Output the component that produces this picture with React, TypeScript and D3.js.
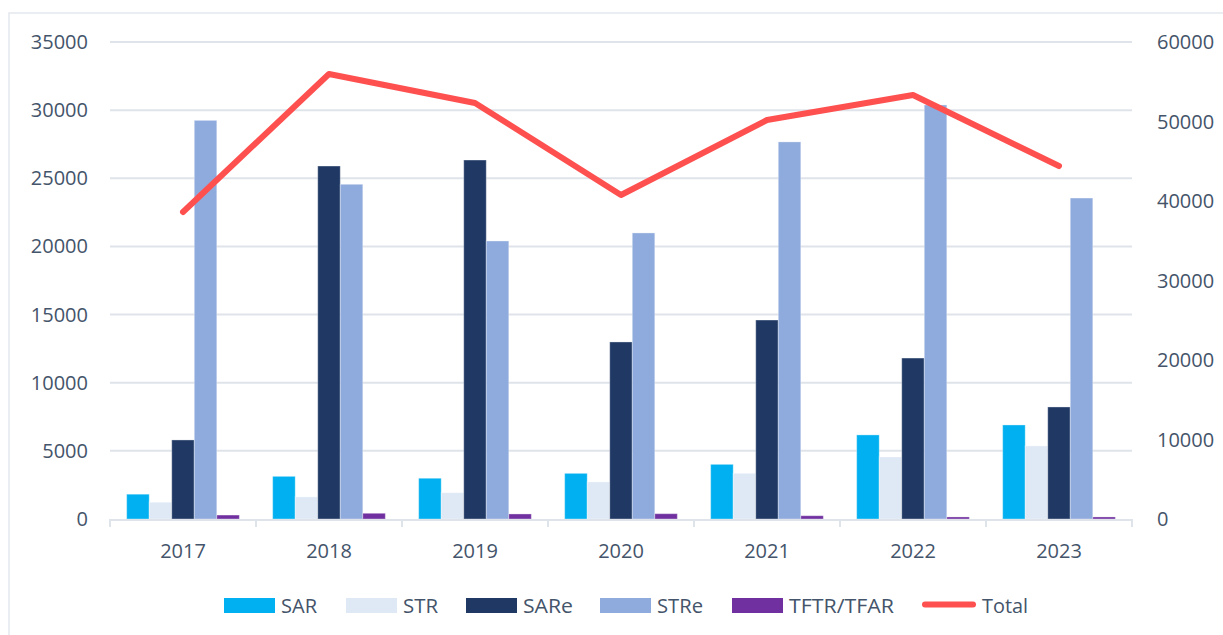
import { useEffect, useRef } from "react";
import * as d3 from "d3";

const years = ["2017", "2018", "2019", "2020", "2021", "2022", "2023"];
const sar = [1820, 3130, 2990, 3350, 4010, 6170, 6900];
const str = [1230, 1620, 1930, 2720, 3350, 4550, 5360];
const sare = [5800, 25900, 26340, 12990, 14600, 11810, 8220];
const stre = [29250, 24560, 20400, 20990, 27670, 30380, 23550];
const tftr = [290, 420, 370, 390, 240, 150, 150];
const total = [38620, 55980, 52330, 40760, 50190, 53330, 44400];

const leftTicks = [0, 5000, 10000, 15000, 20000, 25000, 30000, 35000];
const rightTicks = [0, 10000, 20000, 30000, 40000, 50000, 60000];

const seriesNames = ["SAR", "STR", "SARe", "STRe", "TFTR/TFAR"];
const seriesColors = ["#00B0F0", "#DEE9F5", "#1F3864", "#8FAADC", "#7030A0"];
const legendWidths = [36, 35, 50, 46, 105];

const W = 1223;
const H = 635;
const textColor = "#44546A";
const gridColor = "#DFE3EA";

function App() {
  const svgRef = useRef<SVGSVGElement>(null);

  useEffect(() => {
    const svg = d3.select(svgRef.current);
    svg.selectAll("*").remove();

    const left = 110;
    const right = 1132;
    const top = 42;
    const bottom = 519;

    // scales
    const x = d3.scaleBand().domain(years).range([left, right]);
    const inner = d3
      .scaleBand()
      .domain(seriesNames)
      .range([0, x.bandwidth()])
      .paddingOuter(0.74)
      .paddingInner(0);
    const yL = d3.scaleLinear().domain([0, 35000]).range([bottom, top]);
    const yR = d3.scaleLinear().domain([0, 60000]).range([bottom, top]);

    // frame
    svg
      .append("rect")
      .attr("x", 9)
      .attr("y", 13)
      .attr("width", W)
      .attr("height", H)
      .attr("fill", "white")
      .attr("stroke", "#E3E7ED")
      .attr("stroke-width", 1.5);

    // gridlines
    svg
      .append("g")
      .selectAll("line")
      .data(leftTicks.slice(1))
      .join("line")
      .attr("x1", left)
      .attr("x2", right)
      .attr("y1", (d) => yL(d))
      .attr("y2", (d) => yL(d))
      .attr("stroke", gridColor)
      .attr("stroke-width", 2);

    // left labels
    svg
      .append("g")
      .selectAll("text")
      .data(leftTicks)
      .join("text")
      .attr("x", 88)
      .attr("y", (d) => yL(d))
      .attr("dy", "0.35em")
      .attr("text-anchor", "end")
      .attr("fill", textColor)
      .attr("font-size", 20)
      .text((d) => d);

    // right labels
    svg
      .append("g")
      .selectAll("text")
      .data(rightTicks)
      .join("text")
      .attr("x", 1157)
      .attr("y", (d) => yR(d))
      .attr("dy", "0.35em")
      .attr("text-anchor", "start")
      .attr("fill", textColor)
      .attr("font-size", 20)
      .text((d) => d);

    // bars
    const series = [sar, str, sare, stre, tftr];
    const barG = svg.append("g");
    series.forEach((vals, si) => {
      barG
        .append("g")
        .selectAll("rect")
        .data(vals)
        .join("rect")
        .attr("x", (_, i) => (x(years[i]) ?? 0) + (inner(seriesNames[si]) ?? 0))
        .attr("y", (d) => yL(d))
        .attr("width", inner.bandwidth())
        .attr("height", (d) => bottom - yL(d))
        .attr("fill", seriesColors[si])
        .attr("stroke", "rgba(255,255,255,0.35)")
        .attr("stroke-width", 1);
    });

    // x axis line and ticks
    svg
      .append("line")
      .attr("x1", left)
      .attr("x2", right)
      .attr("y1", bottom + 1)
      .attr("y2", bottom + 1)
      .attr("stroke", gridColor)
      .attr("stroke-width", 2);
    const boundaries = years.map((y) => x(y) ?? 0).concat([right]);
    svg
      .append("g")
      .selectAll("line")
      .data(boundaries)
      .join("line")
      .attr("x1", (d) => d)
      .attr("x2", (d) => d)
      .attr("y1", bottom)
      .attr("y2", bottom + 8)
      .attr("stroke", gridColor)
      .attr("stroke-width", 2);

    svg
      .append("g")
      .selectAll("text")
      .data(years)
      .join("text")
      .attr("x", (d) => (x(d) ?? 0) + x.bandwidth() / 2)
      .attr("y", 558)
      .attr("text-anchor", "middle")
      .attr("fill", textColor)
      .attr("font-size", 20)
      .text((d) => d);

    // total line
    const line = d3
      .line<number>()
      .x((_, i) => (x(years[i]) ?? 0) + x.bandwidth() / 2)
      .y((d) => yR(d));
    svg
      .append("path")
      .attr("d", line(total))
      .attr("fill", "none")
      .attr("stroke", "#FF5050")
      .attr("stroke-width", 6)
      .attr("stroke-linecap", "round")
      .attr("stroke-linejoin", "round");

    // legend
    const legendX = [224, 346, 466, 600, 732];
    const lg = svg.append("g");
    seriesNames.forEach((name, i) => {
      lg.append("rect")
        .attr("x", legendX[i])
        .attr("y", 598)
        .attr("width", 51)
        .attr("height", 15)
        .attr("fill", seriesColors[i]);
      lg.append("text")
        .attr("x", legendX[i] + 57)
        .attr("y", 612.5)
        .attr("fill", textColor)
        .attr("font-size", 20)
        .attr("textLength", legendWidths[i])
        .attr("lengthAdjust", "spacingAndGlyphs")
        .text(name);
    });
    lg.append("line")
      .attr("x1", 925)
      .attr("x2", 973)
      .attr("y1", 604.5)
      .attr("y2", 604.5)
      .attr("stroke", "#FF5050")
      .attr("stroke-width", 6)
      .attr("stroke-linecap", "round");
    lg.append("text")
      .attr("x", 982)
      .attr("y", 612.5)
      .attr("fill", textColor)
      .attr("font-size", 20)
      .attr("textLength", 46)
      .attr("lengthAdjust", "spacingAndGlyphs")
      .text("Total");
  }, []);

  return (
    <svg
      ref={svgRef}
      width={W}
      height={H}
      style={{
        position: "absolute",
        left: 0,
        top: 0,
        display: "block",
        background: "white",
        fontFamily: "'Open Sans', sans-serif",
      }}
    />
  );
}

export default App;
